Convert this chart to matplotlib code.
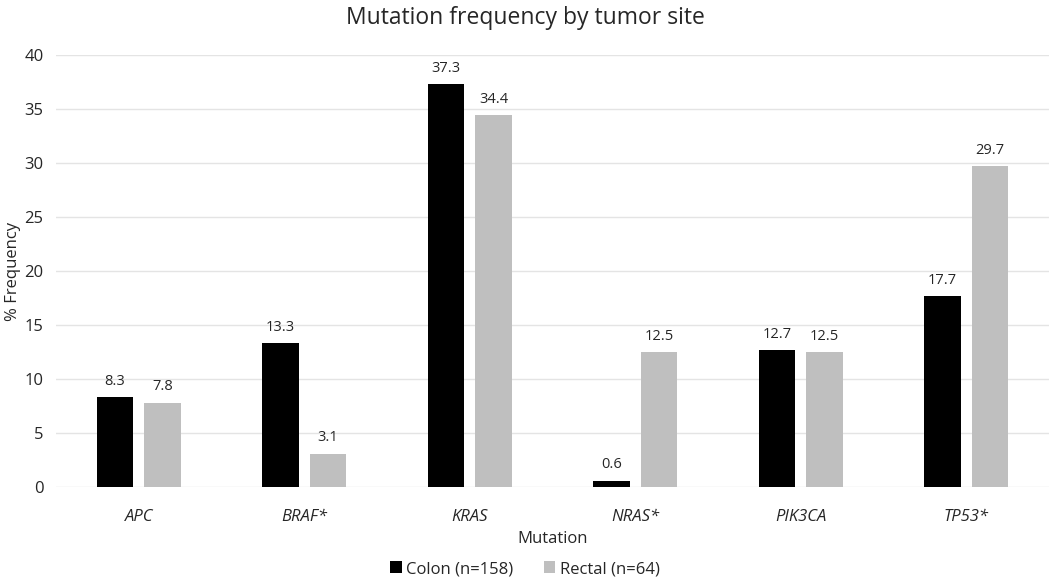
import numpy as np
import matplotlib
matplotlib.use("Agg")
import matplotlib.pyplot as plt

# Data
mutations = ["APC", "BRAF*", "KRAS", "NRAS*", "PIK3CA", "TP53*"]
colon = [8.3, 13.3, 37.3, 0.6, 12.7, 17.7]
rectal = [7.8, 3.1, 34.4, 12.5, 12.5, 29.7]
series_names = ["Colon (n=158)", "Rectal (n=64)"]

plt.rcParams['font.family'] = ['Open Sans', 'DejaVu Sans']
text_color = "#262626"

fig = plt.figure(figsize=(10.5, 5.85), dpi=100)
ax = fig.add_axes([0.0533, 0.1675, 0.9457, 0.7385])

x = np.arange(len(mutations))
width = 0.22
offset = 0.1435

b1 = ax.bar(x - offset, colon, width, color="black", label=series_names[0], zorder=3)
b2 = ax.bar(x + offset, rectal, width, color="#bfbfbf", label=series_names[1], zorder=3)

for bars, vals in [(b1, colon), (b2, rectal)]:
    for bar, v in zip(bars, vals):
        ax.annotate(f"{v:.1f}", (bar.get_x() + bar.get_width() / 2, v),
                    xytext=(0, 6), textcoords="offset points",
                    ha="center", va="bottom", fontsize=10.5, color=text_color)

ax.set_xlim(-0.5, 5.5)
ax.set_ylim(0, 40)
ax.set_yticks(range(0, 41, 5))
ax.set_xticks(x)
ax.set_xticklabels(mutations, fontstyle="italic", fontsize=12, color=text_color)
ax.tick_params(axis="y", labelsize=12, labelcolor=text_color, length=0, pad=9)
ax.tick_params(axis="x", length=0, pad=16)
ax.yaxis.grid(True, color="#e4e4e4", linewidth=1, zorder=0)
for s in ax.spines.values():
    s.set_visible(False)

ax.set_ylabel("% Frequency", fontsize=12, color=text_color)
ax.yaxis.set_label_coords(-0.035, 0.5)
ax.set_xlabel("Mutation", fontsize=12, color=text_color, labelpad=4)
fig.text(0.5, 0.97, "Mutation frequency by tumor site", fontsize=16.5,
         color=text_color, ha="center", va="center")

fig.legend(loc="lower center", bbox_to_anchor=(0.5, -0.012), ncol=2, frameon=False,
           fontsize=12, handlelength=0.7, handleheight=0.7, handletextpad=0.3,
           columnspacing=1.8, labelcolor=text_color)

fig.savefig("out.png", dpi=100)
